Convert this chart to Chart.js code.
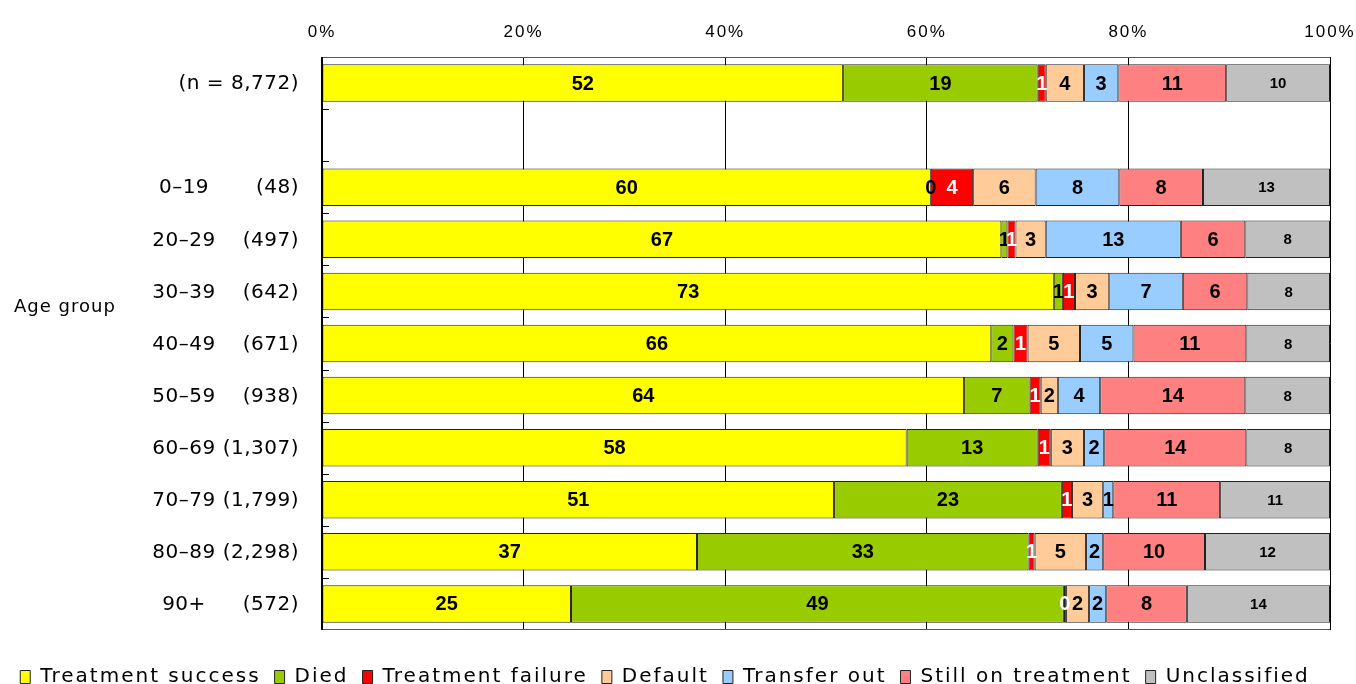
<!DOCTYPE html>
<html>
<head>
<meta charset="utf-8">
<script src="https://cdn.jsdelivr.net/npm/chart.js@4/dist/chart.umd.min.js"></script>
<style>
  html, body { margin: 0; padding: 0; background: #fff; }
  #wrap { width: 1356px; height: 684px; }
</style>
</head>
<body>
<div id="wrap"><canvas id="c"></canvas></div>
<script>
// row labels (second row is an empty spacer)
const ageRanges = ['', '', '0–19', '20–29', '30–39', '40–49', '50–59', '60–69', '70–79', '80–89', '90+'];
const caseCounts = ['(n = 8,772)', '', '(48)', '(497)', '(642)', '(671)', '(938)', '(1,307)', '(1,799)', '(2,298)', '(572)'];

// percentages per outcome
const success      = [51.7, null, 60.4, 67.4, 72.6, 66.4, 63.7, 58.0, 50.8, 37.2, 24.7];
const died         = [19.3, null, 0,    0.6,  0.9,  2.2,  6.5,  13.0, 22.6, 32.9, 48.9];
const failure      = [0.8,  null, 4.2,  0.8,  1.2,  1.4,  1.1,  1.3,  1.0,  0.6,  0.2];
const defaulted    = [3.8,  null, 6.2,  3.0,  3.4,  5.2,  1.7,  3.3,  3.1,  5.1,  2.3];
const transferOut  = [3.4,  null, 8.3,  13.4, 7.3,  5.3,  4.2,  2.0,  1.0,  1.7,  1.7];
const stillOn      = [10.7, null, 8.3,  6.4,  6.4,  11.2, 14.4, 14.1, 10.6, 10.1, 8.0];
const unclassified = [10.3, null, 12.6, 8.4,  8.2,  8.3,  8.4,  8.3,  10.9, 12.4, 14.2];

const xTicks = [0, 20, 40, 60, 80, 100];

const categories = ageRanges.map((r, i) => (r + ' ' + caseCounts[i]).trim());

const series = [
  { label: 'Treatment success', data: success, color: '#FFFF00', text: '#000' },
  { label: 'Died', data: died, color: '#99CC00', text: '#000' },
  { label: 'Treatment failure', data: failure, color: '#FF0000', text: '#fff' },
  { label: 'Default', data: defaulted, color: '#FFCC99', text: '#000' },
  { label: 'Transfer out', data: transferOut, color: '#99CCFF', text: '#000' },
  { label: 'Still on treatment', data: stillOn, color: '#FF8080', text: '#000' },
  { label: 'Unclassified', data: unclassified, color: '#C0C0C0', text: '#000', small: true }
];

// the original font is widely spaced; legend and tick labels get a bit of letter spacing
const spacing = {
  id: 'spacing',
  beforeUpdate(chart) { chart.ctx.letterSpacing = '2px'; },
  beforeDraw(chart) { chart.ctx.letterSpacing = '2px'; }
};

// draws the value labels, row labels and frame
const extras = {
  id: 'extras',
  afterDatasetsDraw(chart) {
    const ctx = chart.ctx;
    const area = chart.chartArea;
    const y = chart.scales.y;

    ctx.save();
    ctx.letterSpacing = '0px';
    // frame
    ctx.strokeStyle = '#555';
    ctx.lineWidth = 1;
    ctx.beginPath();
    ctx.moveTo(area.left, area.top + 0.5);
    ctx.lineTo(area.right, area.top + 0.5);
    ctx.moveTo(area.left, area.bottom - 0.5);
    ctx.lineTo(area.right, area.bottom - 0.5);
    ctx.stroke();
    ctx.strokeStyle = '#000';
    ctx.lineWidth = 2;
    ctx.beginPath();
    ctx.moveTo(area.left, area.top);
    ctx.lineTo(area.left, area.bottom);
    ctx.stroke();
    // little category ticks inside the axis
    ctx.lineWidth = 1;
    const step = (area.bottom - area.top) / categories.length;
    ctx.beginPath();
    for (let i = 1; i < categories.length; i++) {
      const yy = Math.round(area.top + i * step) + 0.5;
      ctx.moveTo(area.left, yy);
      ctx.lineTo(area.left + 7, yy);
    }
    ctx.stroke();

    // value labels
    ctx.textAlign = 'center';
    ctx.textBaseline = 'middle';
    chart.data.datasets.forEach((ds, di) => {
      const meta = chart.getDatasetMeta(di);
      const s = series[di];
      ctx.font = s.small ? 'bold 15px "Liberation Sans", Arial' : 'bold 20px "Liberation Sans", Arial';
      ctx.fillStyle = s.text;
      meta.data.forEach((bar, i) => {
        const v = ds.data[i];
        if (v === null || v === undefined) return;
        const cx = (bar.x + bar.base) / 2;
        ctx.fillText(String(Math.round(v)), cx, bar.y + 1);
      });
    });

    // row labels
    ctx.fillStyle = '#000';
    ctx.font = '20px "DejaVu Sans", sans-serif';
    ctx.letterSpacing = '0.5px';
    ageRanges.forEach((r, i) => {
      const yy = y.getPixelForValue(i) + 1;
      if (r) {
        ctx.textAlign = 'center';
        ctx.fillText(r, 184, yy);
      }
      if (caseCounts[i]) {
        ctx.textAlign = 'right';
        ctx.fillText(caseCounts[i], 299, yy);
      }
    });
    ctx.textAlign = 'left';
    ctx.font = '18px "DejaVu Sans", sans-serif';
    ctx.letterSpacing = '1px';
    ctx.fillText('Age group', 14, y.getPixelForValue(4) + 16);
    ctx.restore();
  }
};

new Chart(document.getElementById('c'), {
  type: 'bar',
  data: {
    labels: categories,
    datasets: series.map(s => ({
      label: s.label,
      data: s.data,
      backgroundColor: s.color,
      borderColor: '#222',
      borderWidth: 1,
      borderSkipped: false,
      barPercentage: 0.72,
      categoryPercentage: 1
    }))
  },
  options: {
    indexAxis: 'y',
    responsive: true,
    maintainAspectRatio: false,
    animation: false,
    layout: { padding: { left: 0, right: 26, top: 0, bottom: -13 } },
    scales: {
      x: {
        stacked: true,
        position: 'top',
        min: 0,
        max: 100,
        afterBuildTicks: axis => { axis.ticks = xTicks.map(v => ({ value: v })); },
        afterFit: axis => { axis.height = 57; axis.paddingLeft = 0; axis.paddingRight = 0; },
        ticks: {
          color: '#000',
          padding: 14,
          font: { family: '"Liberation Sans", Arial', size: 17 },
          callback: v => v + '%'
        },
        grid: { color: '#000', lineWidth: 1, drawTicks: false },
        border: { display: false }
      },
      y: {
        stacked: true,
        afterFit: axis => { axis.width = 322; },
        ticks: { display: false },
        grid: { display: false },
        border: { display: false }
      }
    },
    plugins: {
      legend: {
        position: 'bottom',
        title: { display: true, text: '', font: { size: 10 }, padding: { top: 11, bottom: 0 } },
        labels: {
          boxWidth: 10,
          boxHeight: 13,
          padding: 14,
          color: '#000',
          font: { family: '"DejaVu Sans", sans-serif', size: 20 }
        }
      },
      tooltip: { enabled: false }
    }
  },
  plugins: [spacing, extras]
});
</script>
</body>
</html>
